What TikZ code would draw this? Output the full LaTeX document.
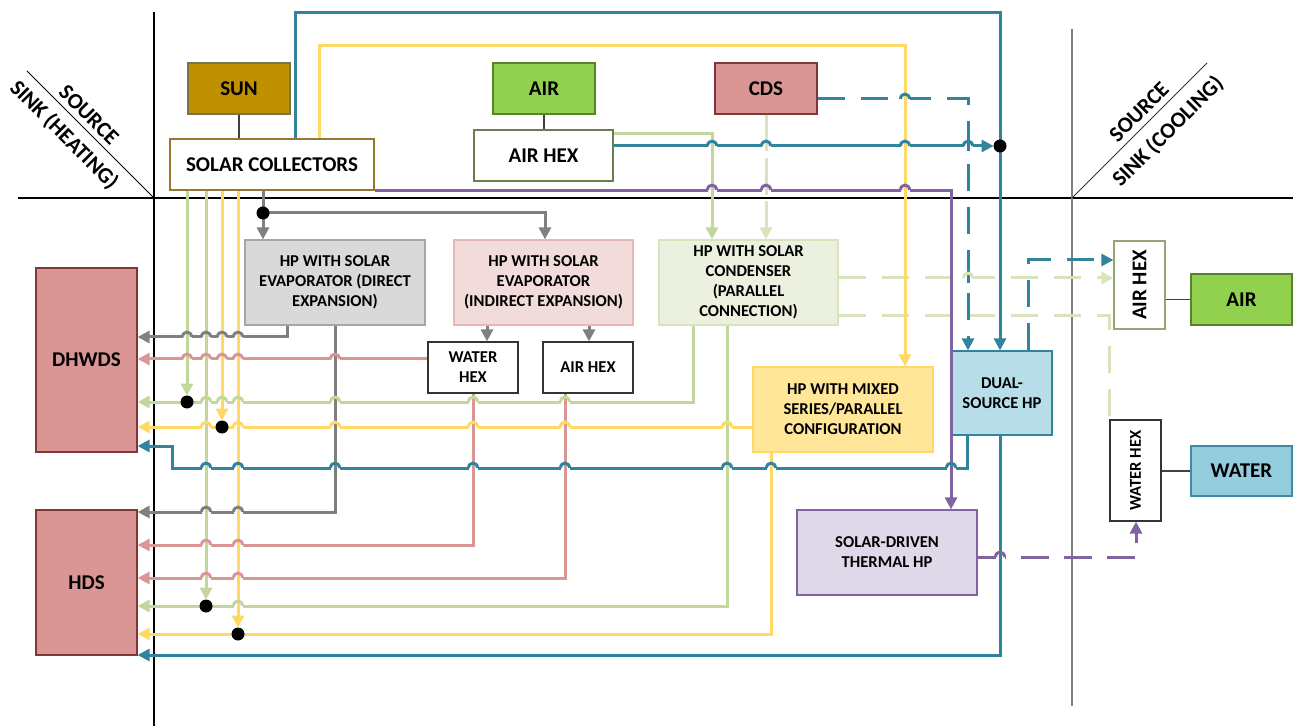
\documentclass[tikz,border=0pt]{standalone}
\usepackage{fontspec}
\setmainfont{Carlito}
\usetikzlibrary{arrows.meta}
\definecolor{tealC}{HTML}{31849B}
\definecolor{yelC}{HTML}{FFD966}
\definecolor{grnC}{HTML}{C3D69B}
\definecolor{lgrnC}{HTML}{D7E4BD}
\definecolor{gryC}{HTML}{808080}
\definecolor{pnkC}{HTML}{DA9694}
\definecolor{purC}{HTML}{8064A2}
\newcommand\fA{\fontsize{10.5}{12}\selectfont\bfseries}
\newcommand\fB{\fontsize{8.3}{10}\selectfont\bfseries}
\newcommand\fD{\fontsize{11}{13}\selectfont\bfseries}
% hop: {horizontal colour}{vertical colour}{x}{y}
\newcommand\hop[4]{\fill[white] (#3-4.5,#4-2) rectangle (#3+4.5,#4+2);
  \draw[#2,line width=1.5pt] (#3,#4-5) -- (#3,#4+5);
  \draw[#1,line width=1.5pt] (#3-4.5,#4) .. controls (#3-4.5,#4-6.5) and (#3+4.5,#4-6.5) .. (#3+4.5,#4);}
\begin{document}
\begin{tikzpicture}[x=0.5pt,y=-0.5pt,
  box/.style={draw,line width=0.6pt,align=center,inner sep=1pt},
  ln/.style={line width=1.5pt},
  arr/.style={-{Triangle[length=6pt,width=6pt]}},
  dsh/.style={dash pattern=on 13.5pt off 8pt},
  dshp/.style={dash pattern=on 14pt off 7.5pt},
  thinln/.style={line width=0.6pt,draw=black!75},
  axisln/.style={line width=0.6pt}]
\useasboundingbox (0,0) rectangle (1293,726);
% axes
\draw[axisln] (154,12) -- (154,726);
\draw[axisln] (18,198) -- (1293,198);
\draw[axisln,draw=gryC] (1072,29) -- (1072,706);
\draw[line width=0.5pt] (27,71) -- (154,198);
\draw[line width=0.5pt,draw=black!80] (1072,198) -- (1207,63);
\node[font=\fD,rotate=-45] at (89,115) {SOURCE};
\node[font=\fD,rotate=-45] at (64,135) {SINK (HEATING)};
\node[font=\fD,rotate=45] at (1139,112) {SOURCE};
\node[font=\fD,rotate=45] at (1168,131.5) {SINK (COOLING)};
% nodes
\node[box,font=\fA,draw=yellow!40!black,minimum width=51pt,minimum height=25.5pt,fill={rgb,255:red,191;green,144;blue,0}] (sun) at (239,88.5) {SUN};
\node[box,font=\fA,draw={rgb,255:red,150;green,120;blue,50},minimum width=102pt,minimum height=25.5pt] (sc) at (272,164.5) {SOLAR COLLECTORS};
\node[box,font=\fA,fill={rgb,255:red,146;green,208;blue,80},draw={rgb,255:red,90;green,130;blue,45},minimum width=51pt,minimum height=25.5pt] (airT) at (544,88.5) {AIR};
\node[box,font=\fA,draw={rgb,255:red,110;green,125;blue,80},minimum width=69.5pt,minimum height=25.5pt] (ahexT) at (543.5,155.5) {AIR HEX};
\node[box,font=\fA,fill={rgb,255:red,217;green,150;blue,148},draw={rgb,255:red,130;green,55;blue,53},minimum width=51pt,minimum height=25.5pt] (cds) at (766,88.5) {CDS};
\node[box,font=\fB,fill={rgb,255:red,217;green,217;blue,217},draw={rgb,255:red,166;green,166;blue,166},minimum width=90pt,minimum height=42.5pt] (hpd) at (335,282.5) {HP WITH SOLAR\\EVAPORATOR (DIRECT\\EXPANSION)};
\node[box,font=\fB,fill={rgb,255:red,242;green,220;blue,219},draw={rgb,255:red,230;green,185;blue,184},minimum width=89.5pt,minimum height=42.5pt] (hpi) at (543.5,282.5) {HP WITH SOLAR\\EVAPORATOR\\(INDIRECT EXPANSION)};
\node[box,font=\fB,fill={rgb,255:red,235;green,241;blue,222},draw={rgb,255:red,215;green,228;blue,189},minimum width=89.5pt,minimum height=42.5pt] (hpc) at (748.5,282.5) {HP WITH SOLAR\\CONDENSER\\(PARALLEL\\CONNECTION)};
\node[box,font=\fB,draw=black!80,minimum width=45pt,minimum height=25.5pt] (whex) at (473,367.5) {WATER\\HEX};
\node[box,font=\fB,draw=black!80,minimum width=45pt,minimum height=25.5pt] (ahexS) at (588,367.5) {AIR HEX};
\node[box,font=\fB,fill={rgb,255:red,255;green,230;blue,153},draw={rgb,255:red,255;green,217;blue,102},minimum width=90pt,minimum height=42.5pt] (hpm) at (843,409.5) {HP WITH MIXED\\SERIES/PARALLEL\\CONFIGURATION};
\node[box,font=\fB,fill={rgb,255:red,183;green,222;blue,232},draw=tealC,minimum width=50pt,minimum height=42pt] (dual) at (1002,393) {DUAL-\\SOURCE HP};
\node[box,font=\fB,fill={rgb,255:red,223;green,216;blue,232},draw=purC,minimum width=90pt,minimum height=42.5pt] (sdt) at (887,552.5) {SOLAR-DRIVEN\\THERMAL HP};
\node[box,font=\fA,fill={rgb,255:red,217;green,150;blue,148},draw={rgb,255:red,130;green,55;blue,53},minimum width=50.5pt,minimum height=92pt] (dhw) at (86.5,360) {DHWDS};
\node[box,font=\fA,fill={rgb,255:red,217;green,150;blue,148},draw={rgb,255:red,130;green,55;blue,53},minimum width=50.5pt,minimum height=72.5pt] (hds) at (86.5,582.5) {HDS};
\node[box,draw={rgb,255:red,150;green,165;blue,115},minimum width=25.5pt,minimum height=44pt,label={[rotate=90,font=\fA]center:AIR HEX}] (ahexR) at (1139.5,285) {};
\node[box,font=\fA,fill={rgb,255:red,146;green,208;blue,80},draw={rgb,255:red,90;green,130;blue,45},minimum width=50.5pt,minimum height=25.5pt] (airR) at (1241.5,299.5) {AIR};
\node[box,draw=black!80,minimum width=25.5pt,minimum height=50.5pt,label={[rotate=90,font=\fB]center:WATER HEX}] (whexR) at (1135.5,470.5) {};
\node[box,font=\fA,fill={rgb,255:red,147;green,205;blue,221},draw={rgb,255:red,60;green,140;blue,165},minimum width=50.5pt,minimum height=25pt] (waterR) at (1241.5,471) {WATER};
% thin links
\draw[thinln] (sun.south) -- (sun.south |- sc.north);
\draw[thinln] (airT.south) -- (airT.south |- ahexT.north);
\draw[thinln] (airR.west) -- (airR.west -| ahexR.east);
\draw[thinln] (waterR.west) -- (waterR.west -| whexR.east);
% junctions
\coordinate (jT) at (1000,146);
\coordinate (jG) at (263,213);
\coordinate (jG1) at (187,402);
\coordinate (jG2) at (206,606);
\coordinate (jY1) at (222,427);
\coordinate (jY2) at (238,634);
% gray
\draw[gryC,ln,arr] (sc.south -| jG) -- (hpd.north -| jG);
\draw[gryC,ln,arr] (jG) -| (hpi.north -| 545,0);
\draw[gryC,ln,arr] (hpd.south -| 287,0) |- (dhw.east |- 0,337);
\draw[gryC,ln,arr] (hpd.south -| 335,0) |- (hds.east |- 0,512);
\draw[gryC,ln,arr] (hpi.south -| 487,0) -- (whex.north -| 487,0);
\draw[gryC,ln,arr] (hpi.south -| 589,0) -- (ahexS.north -| 589,0);
% pink
\draw[pnkC,ln,arr] (whex.west |- 0,359) -- (dhw.east |- 0,359);
\draw[pnkC,ln,arr] (whex.south -| 473,0) |- (hds.east |- 0,545);
\draw[pnkC,ln,arr] (ahexS.south -| 565,0) |- (hds.east |- 0,578);
% green
\draw[grnC,ln,arr] (ahexT.east |- 0,134) -| (hpc.north -| 712,0);
\draw[lgrnC,ln,dsh,arr] (cds.south) -- (hpc.north -| cds.south);
\draw[grnC,ln,arr] (hpc.south -| 693,0) |- (dhw.east |- 0,402);
\draw[grnC,ln,arr] (hpc.south -| 727,0) |- (hds.east |- 0,606);
\draw[grnC,ln,arr] (sc.south -| jG1) -- ([yshift=3.2pt]jG1);
\draw[grnC,ln,arr] (sc.south -| jG2) -- ([yshift=3.2pt]jG2);
\draw[lgrnC,ln,dsh,arr] (hpc.east |- 0,278) -- (ahexR.west |- 0,278);
\draw[lgrnC,ln,dsh] (hpc.east |- 0,316) -| (whexR.north west);
% yellow
\draw[yelC,ln,arr] (sc.north -| 319,0) |- (905,46) -- (hpm.north -| 905,0);
\draw[yelC,ln,arr] (hpm.west |- 0,427) -- (dhw.east |- 0,427);
\draw[yelC,ln,arr] (hpm.south -| 771,0) |- (hds.east |- 0,634);
\draw[yelC,ln,arr] (sc.south -| jY1) -- ([yshift=3.2pt]jY1);
\draw[yelC,ln,arr] (sc.south -| jY2) -- ([yshift=3.2pt]jY2);
% purple
\draw[purC,ln,arr] (sc.south east) -| (sdt.north -| 951,0);
\draw[purC,ln,dshp,arr] (sdt.east |- 0,557) -| (whexR.south -| 1136,0);
% teal
\draw[tealC,ln,arr] (sc.north -| 295,0) |- (1000,13) -- (dual.north -| jT);
\draw[tealC,ln,arr] (ahexT.east |- jT) -- ([xshift=-3.2pt]jT);
\draw[tealC,ln,arr] (dual.south -| jT) |- (hds.east |- 0,655);
\draw[tealC,ln,arr] (dual.south -| 967,0) |- (172,468) |- (dhw.east |- 0,446);
\draw[tealC,ln,dsh,arr] (cds.east |- 0,99) -| (dual.north -| 968,0);
\draw[tealC,ln,dsh,arr] (dual.north -| 1028,0) |- (ahexR.west |- 0,260);
% hops (horizontal line jumps over vertical line)
\hop{tealC}{grnC}{712}{146}\hop{tealC}{lgrnC}{766}{146}\hop{tealC}{yelC}{905}{146}\hop{tealC}{tealC}{968}{146}
\hop{purC}{grnC}{712}{190}\hop{purC}{lgrnC}{766}{190}\hop{purC}{yelC}{905}{190}
\hop{tealC}{yelC}{905}{99}
\hop{gryC}{grnC}{187}{337}\hop{gryC}{grnC}{206}{337}\hop{gryC}{yelC}{222}{337}\hop{gryC}{yelC}{238}{337}
\hop{pnkC}{grnC}{187}{359}\hop{pnkC}{grnC}{206}{359}\hop{pnkC}{yelC}{222}{359}\hop{pnkC}{yelC}{238}{359}\hop{pnkC}{gryC}{335}{359}
\hop{grnC}{grnC}{206}{402}\hop{grnC}{yelC}{222}{402}\hop{grnC}{yelC}{238}{402}\hop{grnC}{gryC}{335}{402}\hop{grnC}{pnkC}{473}{402}\hop{grnC}{pnkC}{565}{402}
\hop{yelC}{grnC}{206}{427}\hop{yelC}{yelC}{238}{427}\hop{yelC}{gryC}{335}{427}\hop{yelC}{pnkC}{473}{427}\hop{yelC}{pnkC}{565}{427}\hop{yelC}{grnC}{727}{427}
\hop{tealC}{grnC}{206}{468}\hop{tealC}{yelC}{238}{468}\hop{tealC}{gryC}{335}{468}\hop{tealC}{pnkC}{473}{468}\hop{tealC}{pnkC}{565}{468}\hop{tealC}{grnC}{727}{468}\hop{tealC}{yelC}{771}{468}\hop{tealC}{purC}{951}{468}
\hop{gryC}{grnC}{206}{512}\hop{gryC}{yelC}{238}{512}
\hop{pnkC}{grnC}{206}{545}\hop{pnkC}{yelC}{238}{545}
\hop{pnkC}{grnC}{206}{578}\hop{pnkC}{yelC}{238}{578}
\hop{grnC}{yelC}{238}{606}
\hop{lgrnC}{tealC}{968}{278}
\hop{purC}{tealC}{1000}{557}
% dots
\foreach \c in {jT,jG,jG1,jG2,jY1,jY2} {\fill (\c) circle[radius=6.5];}
\end{tikzpicture}
\end{document}
